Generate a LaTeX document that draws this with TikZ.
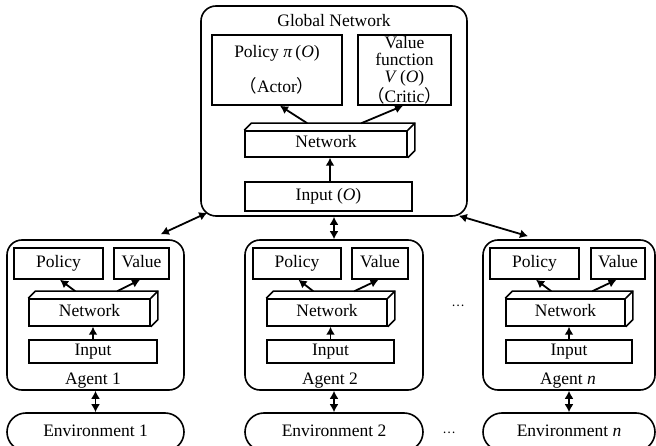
\documentclass[tikz,border=0pt]{standalone}
\usepackage{fontspec}
\setmainfont{Liberation Serif}
\newfontfamily\cjk{Noto Sans CJK SC}
\usetikzlibrary{arrows.meta}
\newcommand\depthbox[1]{%
  \draw[boxline] (#1.north west) -- ++(7,-7) -- ([shift={(7,-7)}]#1.north east) -- ([shift={(7,-7)}]#1.south east) -- (#1.south east);
  \draw[boxline] (#1.north east) -- ++(7,-7);}
\newcommand\dotsmark{{\fontsize{12}{12}\selectfont\cjk …}}
\begin{document}
\begin{tikzpicture}[x=1pt,y=-1pt,
  font=\fontsize{17.5}{17}\selectfont,
  boxline/.style={line width=1.5pt, line join=miter},
  box/.style={draw, boxline, rectangle, inner sep=0pt, align=center},
  one/.style={text height=12pt, text depth=4pt},
  outer/.style={draw, line width=1.6pt, rectangle, rounded corners=15pt, inner sep=0pt},
  envbox/.style={draw, line width=1.6pt, rectangle, rounded corners=19pt, inner sep=0pt, text height=12pt, text depth=4pt},
  lbl/.style={inner sep=0pt, align=center},
  arr/.style={line width=1.8pt, -{Latex[length=8pt,width=9pt]}},
  darr/.style={line width=1.8pt, {Latex[length=8pt,width=9pt]}-{Latex[length=8pt,width=9pt]}}]
\useasboundingbox (0,0) rectangle (656,446);
\clip (0,0) rectangle (656,446);

% ---------- Global network ----------
\node[outer, minimum width=266, minimum height=210] (gl) at (334,111) {};
\node[lbl] (gt) at (334,21) {Global Network};
\node[box, minimum width=130, minimum height=70] (gp) at (277,70)
  {Policy \textit{π}\,(\textit{O})\\[15pt]{\cjk （}Actor{\cjk ）}};
\node[box, minimum width=93, minimum height=70] (gv) at (404.5,70)
  {Value\\function\\\textit{V}\,(\textit{O})\\{\cjk （}Critic{\cjk ）}};
\node[box, one, minimum width=162, minimum height=26] (gn) at (326,144) {Network};
\depthbox{gn}
\node[box, one, minimum width=167, minimum height=29] (gi) at (328.5,196.5) {Input (\textit{O})};
\draw[arr] ([shift={(63,-7)}]gn.north west) -- ([xshift=3]gp.south);
\draw[arr] ([shift={(117,-7)}]gn.north west) -- ([xshift=-1.5]gv.south);
\draw[arr] ([xshift=1.5]gi.north) -- ([xshift=1.5]gi.north |- gn.south);

% ---------- Agent 1 ----------
\node[outer, minimum width=177, minimum height=150] (ag1) at (95.5,315) {};
\node[box, one, minimum width=89, minimum height=31] (p1) at (58.5,263.5) {Policy};
\node[box, one, minimum width=55, minimum height=31] (v1) at (141.5,263.5) {Value};
\node[box, one, minimum width=121, minimum height=27] (n1) at (89.5,312.5) {Network};
\depthbox{n1}
\node[box, one, minimum width=128, minimum height=23] (i1) at (93,351.5) {Input};
\node[lbl] (l1) at (93,381) {Agent 1};
\draw[arr] ([shift={(47,-7)}]n1.north west) -- ([xshift=1.5]p1.south);
\draw[arr] ([shift={(89,-7)}]n1.north west) -- ([xshift=-1.5]v1.south);
\draw[arr] (i1.north) -- (i1.north |- n1.south);
\node[envbox, minimum width=177, minimum height=38] (e1) at (95.5,432) {Environment 1};
\draw[darr] (ag1.south) -- (e1.north);

% ---------- Agent 2 ----------
\node[outer, minimum width=178, minimum height=150] (ag2) at (334,315) {};
\node[box, one, minimum width=88, minimum height=31] (p2) at (297,263.5) {Policy};
\node[box, one, minimum width=56, minimum height=31] (v2) at (380,263.5) {Value};
\node[box, one, minimum width=120, minimum height=27] (n2) at (327,312.5) {Network};
\depthbox{n2}
\node[box, one, minimum width=127, minimum height=23] (i2) at (330.5,351.5) {Input};
\node[lbl] (l2) at (330,381) {Agent 2};
\draw[arr] ([shift={(47,-7)}]n2.north west) -- ([xshift=1.5]p2.south);
\draw[arr] ([shift={(88,-7)}]n2.north west) -- ([xshift=-1.5]v2.south);
\draw[arr] (i2.north) -- (i2.north |- n2.south);
\node[envbox, minimum width=178, minimum height=38] (e2) at (334,432) {Environment 2};
\draw[darr] (ag2.south) -- (e2.north);

% ---------- Agent n ----------
\node[outer, minimum width=172, minimum height=150] (agn) at (569,315) {};
\node[box, one, minimum width=89, minimum height=31] (pn) at (534.5,263.5) {Policy};
\node[box, one, minimum width=54, minimum height=31] (vn) at (618,263.5) {Value};
\node[box, one, minimum width=119, minimum height=27] (nn) at (565.5,312.5) {Network};
\depthbox{nn}
\node[box, one, minimum width=126, minimum height=23] (in) at (569,351.5) {Input};
\node[lbl] (ln) at (568,381) {Agent \textit{n}};
\draw[arr] ([shift={(46,-7)}]nn.north west) -- ([xshift=1.5]pn.south);
\draw[arr] ([shift={(87,-7)}]nn.north west) -- ([xshift=-1.5]vn.south);
\draw[arr] (in.north) -- (in.north |- nn.south);
\node[envbox, minimum width=172, minimum height=38] (en) at (569,432) {Environment \textit{n}};
\draw[darr] (agn.south) -- (en.north);

% ---------- dots ----------
\node[lbl] (d1) at (458,306) {\dotsmark};
\node[lbl] (d2) at (449,433) {\dotsmark};

% ---------- global <-> agents ----------
\draw[darr] ([shift={(7,-4)}]gl.south west) -- ([shift={(-24,-5)}]ag1.north east);
\draw[darr] (gl.south) -- (ag2.north);
\draw[darr] ([shift={(-9,-1)}]gl.south east) -- ([shift={(-41,-3)}]agn.north);
\end{tikzpicture}
\end{document}
